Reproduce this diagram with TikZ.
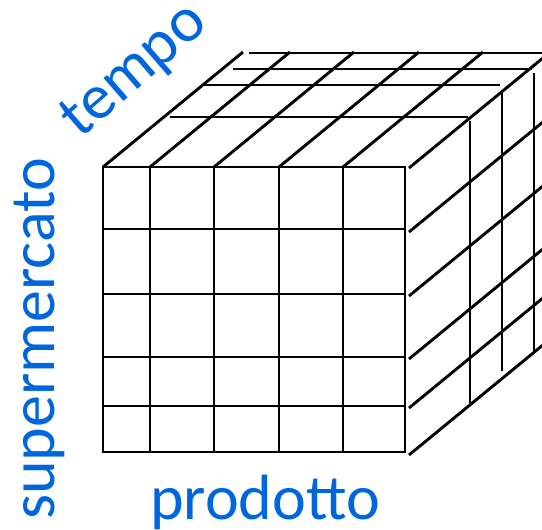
\documentclass[tikz,border=0pt]{standalone}
\usepackage{fontspec}
\setmainfont{Carlito}
\usepackage{xcolor}
\usepackage{tikz}
\usetikzlibrary{positioning}
\definecolor{axisblue}{RGB}{0,102,221}

\begin{document}
\begin{tikzpicture}[
    x=1pt, y=-1pt,
    edge/.style={line width=2.9pt, black},
    axislabel/.style={text=axisblue, font=\fontsize{64}{64}\selectfont, inner sep=0pt, anchor=base},
]
\useasboundingbox (0,0) rectangle (542,530);
\clip (0,0) rectangle (542,530);

% Front face
\draw[edge] (103,167) rectangle (405,452);
\foreach \x in {150,214,279,343} \draw[edge] (\x,167) -- (\x,452);
\foreach \y in {229,294,357,406} \draw[edge] (103,\y) -- (405,\y);

% Top face
\foreach \x in {103,150,214,279,343} \draw[edge] (\x,167) -- ++(140,-115);
\draw[edge] (170,117) -- (468,117);
\draw[edge] (202,85) -- (500,85);
\draw[edge] (233,69) -- (532,69);
\draw[edge] (249,53) -- (560,53);

% Right face
\foreach \y in {168,232,296,359,408,455} \draw[edge] (409,\y) -- ++(140,-115);
\draw[edge] (470,121) -- (470,403);
\draw[edge] (502,90) -- (502,371);
\draw[edge] (534,73) -- (534,354);

% Axis labels
\node[axislabel, rotate=41] (tempo) at (145,83) {tempo};
\node[axislabel, rotate=90] (supermercato) at (55,339) {supermercato};
\node[axislabel] (prodotto) at (265,519) {prodotto};

\end{tikzpicture}
\end{document}
